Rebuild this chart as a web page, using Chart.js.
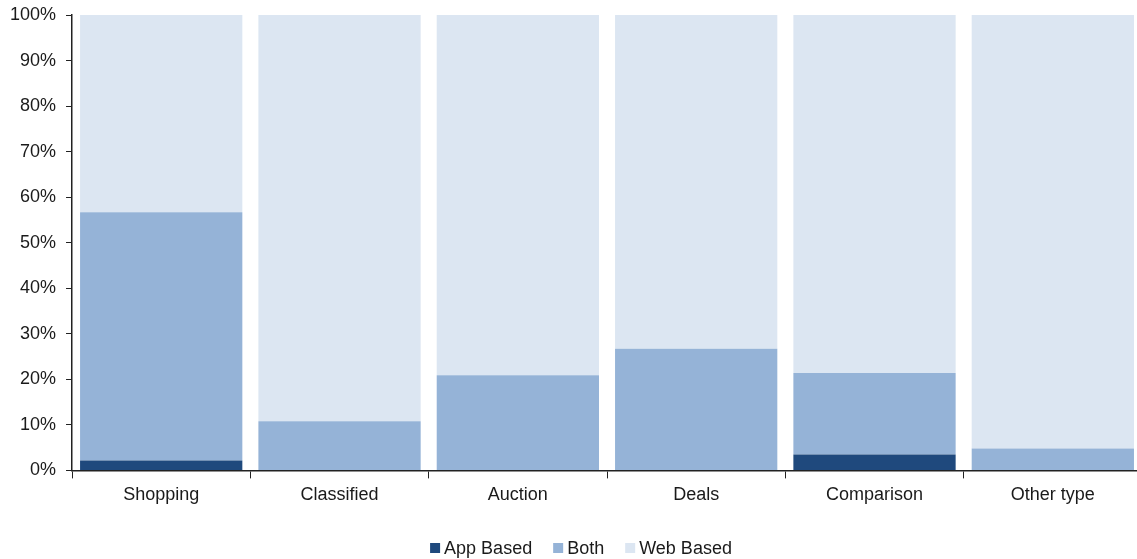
<!DOCTYPE html>
<html>
<head>
<meta charset="utf-8">
<script src="https://cdn.jsdelivr.net/npm/chart.js@4/dist/chart.umd.min.js"></script>
<style>
  html, body { margin: 0; padding: 0; background: #fff; overflow: hidden; }
  #wrap { width: 1142px; height: 559px; }
</style>
</head>
<body>
<div id="wrap"><canvas id="c" width="1142" height="559"></canvas></div>
<script>
// Share of platforms by type, split by delivery channel (percent)
const categories = ['Shopping', 'Classified', 'Auction', 'Deals', 'Comparison', 'Other type'];
const appBased = [2.2, 0, 0, 0, 3.5, 0];
const both     = [54.5, 10.8, 20.9, 26.7, 17.9, 4.8];
const webBased = [43.3, 89.2, 79.1, 73.3, 78.6, 95.2];
const yTicks   = [0, 10, 20, 30, 40, 50, 60, 70, 80, 90, 100];

const FONT_FAMILY = "'Liberation Sans', Arial, sans-serif";
const FONT = { family: FONT_FAMILY, size: 18 };
const TEXT = '#1a1a1a';
const AXIS = '#222222';

// Compact legend under the axis: small square swatch, tight gap to its text
const compactLegend = {
  id: 'compactLegend',
  afterDraw(chart) {
    const ctx = chart.ctx;
    const box = 10, gap = 4, spacing = 21;
    const cy = 548;
    ctx.save();
    ctx.font = `${FONT.size}px ${FONT_FAMILY}`;
    ctx.textBaseline = 'middle';
    const items = chart.data.datasets.map(ds => ({
      label: ds.label, color: ds.backgroundColor, w: ctx.measureText(ds.label).width
    }));
    const total = items.reduce((s, it) => s + box + gap + it.w, 0) + spacing * (items.length - 1);
    let x = 581 - total / 2;
    items.forEach(it => {
      ctx.fillStyle = it.color;
      ctx.fillRect(x, cy - box / 2, box, box);
      x += box + gap;
      ctx.fillStyle = TEXT;
      ctx.fillText(it.label, x, cy + 1);
      x += it.w + spacing;
    });
    ctx.restore();
  }
};

new Chart(document.getElementById('c'), {
  type: 'bar',
  data: {
    labels: categories,
    datasets: [
      { label: 'App Based', data: appBased, backgroundColor: '#1F497D' },
      { label: 'Both',      data: both,     backgroundColor: '#95B3D7' },
      { label: 'Web Based', data: webBased, backgroundColor: '#DCE6F2' }
    ]
  },
  plugins: [compactLegend],
  options: {
    responsive: false,
    animation: false,
    layout: { padding: { top: 15, left: 0, right: 0, bottom: 47 } },
    datasets: { bar: { categoryPercentage: 1.0, barPercentage: 0.91 } },
    plugins: {
      legend: { display: false },
      tooltip: { enabled: false }
    },
    scales: {
      x: {
        stacked: true,
        grid: { drawOnChartArea: false, drawTicks: true, tickLength: 8, color: AXIS, offset: true },
        border: { color: AXIS, width: 1.5 },
        ticks: { font: FONT, color: TEXT, padding: 6, maxRotation: 0 }
      },
      y: {
        stacked: true,
        min: 0, max: 100,
        afterBuildTicks: (axis) => { axis.ticks = yTicks.map(v => ({ value: v })); },
        afterFit: (axis) => { axis.paddingTop = 0; axis.paddingBottom = 0; },
        grid: { drawOnChartArea: false, drawTicks: true, tickLength: 6, color: AXIS },
        border: { color: AXIS, width: 1.5 },
        ticks: { font: FONT, color: TEXT, padding: 10, callback: (v) => v + '%' }
      }
    }
  }
});
</script>
</body>
</html>
